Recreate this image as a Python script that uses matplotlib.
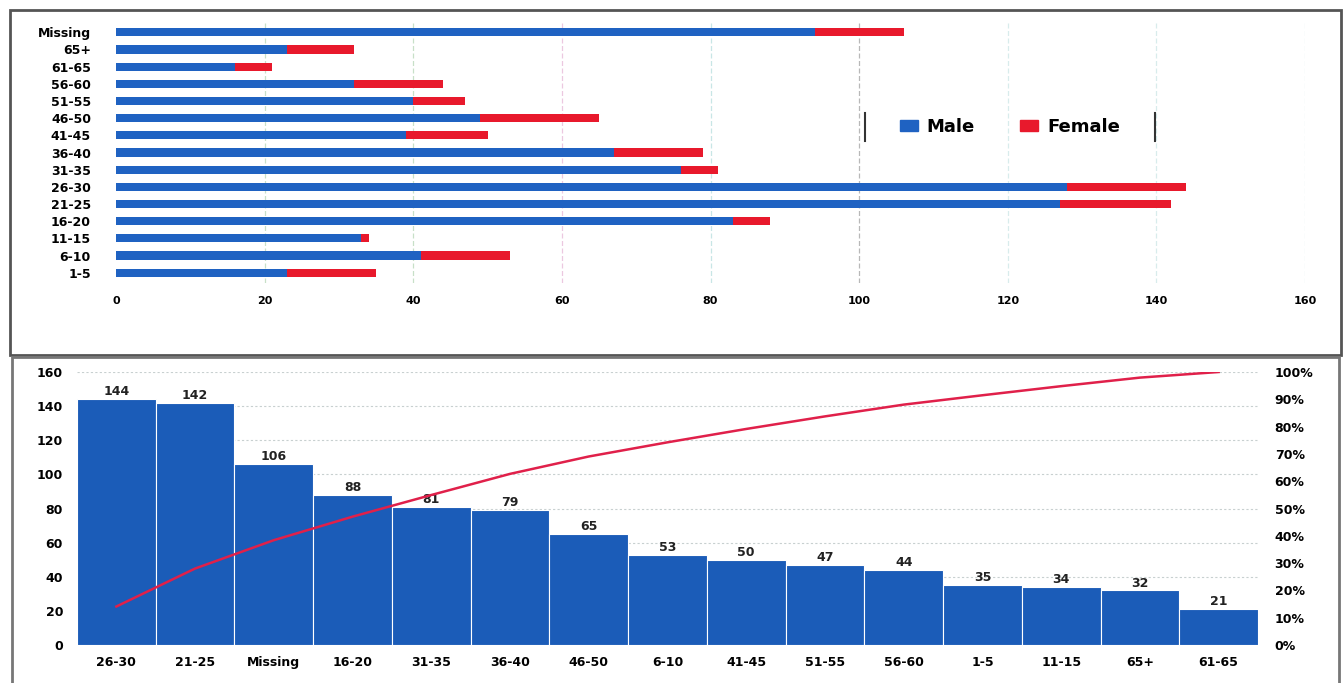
import matplotlib
matplotlib.use("Agg")
import matplotlib.pyplot as plt
from matplotlib.lines import Line2D
from matplotlib.patches import Rectangle
from matplotlib.ticker import PercentFormatter

# Age groups, bottom to top in the stacked bar panel
age_groups = ["1-5", "6-10", "11-15", "16-20", "21-25", "26-30", "31-35", "36-40",
              "41-45", "46-50", "51-55", "56-60", "61-65", "65+", "Missing"]
male = [23, 41, 33, 83, 127, 128, 76, 67, 39, 49, 40, 32, 16, 23, 94]
female = [12, 12, 1, 5, 15, 16, 5, 12, 11, 16, 7, 12, 5, 9, 12]

# Pareto panel (sorted totals)
pareto_labels = ["26-30", "21-25", "Missing", "16-20", "31-35", "36-40", "46-50", "6-10",
                 "41-45", "51-55", "56-60", "1-5", "11-15", "65+", "61-65"]
pareto_counts = [144, 142, 106, 88, 81, 79, 65, 53, 50, 47, 44, 35, 34, 32, 21]

BLUE = "#1f62c2"
RED = "#e8192c"
BAR_BLUE = "#1b5cb8"

W, H = 1344, 683
fig = plt.figure(figsize=(W / 100, H / 100), dpi=100)
fig.patch.set_facecolor("white")


def fx(px):
    return px / W


def fy(py):
    return 1 - py / H


# Panel frames
fig.add_artist(Rectangle((fx(10), fy(355)), fx(1331), 345 / H, transform=fig.transFigure,
                         fill=False, edgecolor="#555555", linewidth=2))
fig.add_artist(Rectangle((fx(12), fy(690)), fx(1327), 333 / H, transform=fig.transFigure,
                         fill=False, edgecolor="#777777", linewidth=2))

# ---- Top panel: stacked horizontal bars by gender ----
ax1 = fig.add_axes([fx(116), fy(283), fx(1305 - 116), (283 - 22) / H])
ypos = list(range(len(age_groups)))
ax1.barh(ypos, male, height=0.47, color=BLUE, label="Male")
ax1.barh(ypos, female, left=male, height=0.47, color=RED, label="Female")
ax1.set_xlim(0, 160)
ax1.set_ylim(-0.6, len(age_groups) - 0.4)
ax1.set_yticks(ypos)
ax1.set_yticklabels(age_groups, fontsize=9, fontweight="bold")
ax1.set_xticks(range(0, 161, 20))
ax1.tick_params(axis="x", labelsize=8, length=0, pad=9)
ax1.tick_params(axis="y", length=0, pad=18)
for lab in ax1.get_xticklabels():
    lab.set_fontweight("bold")
grid_colors = ["#c8e0c8", "#c8e0c8", "#c8e0c8", "#ecc8e0", "#c8e6e6",
               "#b8b8b8", "#d8ecec", "#d8ecec", "#d8ecec"]
for v, c in zip(range(0, 161, 20), grid_colors):
    if v > 0:
        ax1.axvline(v, color=c, linewidth=0.9, linestyle=(0, (4, 2)), zorder=0)
for s in ax1.spines.values():
    s.set_visible(False)

leg = fig.legend(handles=[Rectangle((0, 0), 1, 1, color=BLUE), Rectangle((0, 0), 1, 1, color=RED)],
                 labels=["Male", "Female"], loc="center", bbox_to_anchor=(fx(1010), fy(127)),
                 ncol=2, frameon=False, handlelength=1.0, handleheight=0.6,
                 columnspacing=2.5, handletextpad=0.5,
                 prop={"size": 13, "weight": "bold"})
for xpix in (865, 1155):
    fig.add_artist(Line2D([fx(xpix), fx(xpix)], [fy(113), fy(141)], transform=fig.transFigure,
                          color="#333333", linewidth=1.5))

# ---- Bottom panel: Pareto chart ----
ax2 = fig.add_axes([fx(77), fy(645), fx(1258 - 77), (645 - 372) / H])
xpos = list(range(len(pareto_counts)))
bars = ax2.bar(xpos, pareto_counts, width=1.0, color=BAR_BLUE, edgecolor="white", linewidth=0.8)
ax2.set_xlim(-0.5, len(pareto_counts) - 0.5)
ax2.set_ylim(0, 160)
ax2.set_yticks(range(0, 161, 20))
ax2.set_xticks(xpos)
ax2.set_xticklabels(pareto_labels, fontsize=9, fontweight="bold")
ax2.tick_params(axis="x", length=0, pad=8)
ax2.tick_params(axis="y", length=0, labelsize=9, pad=10)
for lab in ax2.get_yticklabels():
    lab.set_fontweight("bold")
for v in range(20, 161, 20):
    ax2.axhline(v, color="#c8d0d0", linewidth=0.8, linestyle=(0, (2, 2)), zorder=0)
for b, v in zip(bars, pareto_counts):
    ax2.text(b.get_x() + b.get_width() / 2, v + 0.5, str(v), ha="center", va="bottom",
             fontsize=9, fontweight="bold", color="#222222")
for s in ax2.spines.values():
    s.set_visible(False)

total = sum(pareto_counts)
cum = []
running = 0
for v in pareto_counts:
    running += v
    cum.append(running / total)

ax3 = ax2.twinx()
ax3.plot(xpos, cum, color="#e0204a", linewidth=1.8)
ax3.set_ylim(0, 1)
ax3.set_yticks([i / 10 for i in range(11)])
ax3.yaxis.set_major_formatter(PercentFormatter(1.0, decimals=0))
ax3.tick_params(axis="y", length=0, labelsize=9, pad=12)
for lab in ax3.get_yticklabels():
    lab.set_fontweight("bold")
for s in ax3.spines.values():
    s.set_visible(False)

fig.savefig("out.png", dpi=100)
